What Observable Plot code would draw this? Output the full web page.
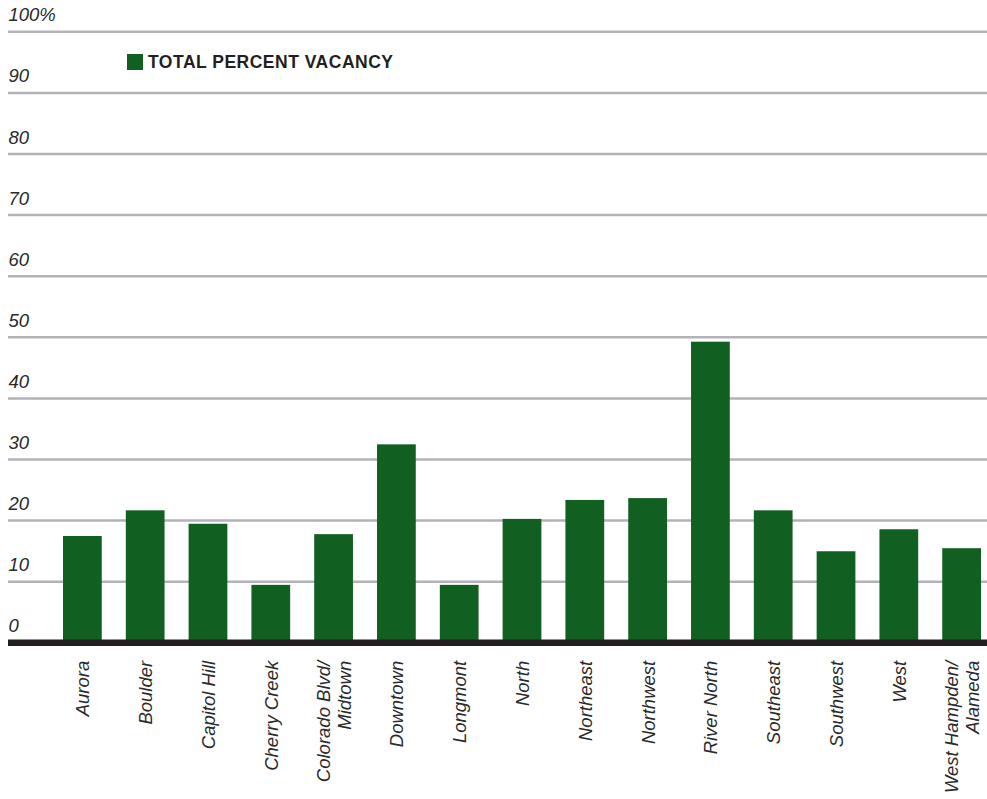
<!DOCTYPE html>
<html>
<head>
<meta charset="utf-8">
<script src="https://cdn.jsdelivr.net/npm/d3@7"></script>
<script src="https://cdn.jsdelivr.net/npm/@observablehq/plot@0.6"></script>
<style>
  html, body { margin: 0; padding: 0; background: #fff; }
  #wrap { position: relative; width: 987px; height: 799px; font-family: "Liberation Sans", Arial, sans-serif; }
  #legend { position: absolute; left: 127px; top: 53px; display: flex; align-items: center; font-weight: bold; font-size: 17.5px; color: #231f20; letter-spacing: 0.5px; line-height: 18px; }
  #legend .sw { width: 16px; height: 16px; background: #115f21; margin-right: 5px; }
</style>
</head>
<body>
<div id="wrap">
  <div id="chart"></div>
  <div id="legend"><span class="sw"></span><span>TOTAL PERCENT VACANCY</span></div>
</div>
<script>
const categories = ["Aurora", "Boulder", "Capitol Hill", "Cherry Creek", "Colorado Blvd/\nMidtown", "Downtown", "Longmont", "North", "Northeast", "Northwest", "River North", "Southeast", "Southwest", "West", "West Hampden/\nAlameda"];
const vacancy = [17.4, 21.6, 19.4, 9.4, 17.7, 32.4, 9.4, 20.2, 23.3, 23.6, 49.2, 21.6, 14.9, 18.5, 15.4];
const yTicks = [10, 20, 30, 40, 50, 60, 70, 80, 90, 100];
const yTickLabels = ["0", "10", "20", "30", "40", "50", "60", "70", "80", "90", "100%"];
const yLabelValues = [0, 10, 20, 30, 40, 50, 60, 70, 80, 90, 100];

const data = categories.map((c, i) => ({ name: c, value: vacancy[i] }));
const tickData = yLabelValues.map((v, i) => ({ v, label: yTickLabels[i] }));

const chart = Plot.plot({
  width: 987,
  height: 799,
  marginTop: 31.3,
  marginBottom: 156.7,
  marginLeft: 8,
  marginRight: 0,
  style: { fontFamily: "'Liberation Sans', Arial, sans-serif", background: "#fff", overflow: "visible" },
  x: { domain: categories, range: [63, 981], paddingInner: 0.383, paddingOuter: 0, round: false, axis: null },
  y: { domain: [0, 100], axis: null },
  marks: [
    Plot.ruleY(yTicks, { stroke: "#b3b3b7", strokeWidth: 2.5 }),
    Plot.barY(data, { x: "name", y: "value", fill: "#115f21" }),
    Plot.ruleY([0], { stroke: "#231f20", strokeWidth: 6.5 }),
    Plot.text(tickData, {
      y: "v", text: "label", frameAnchor: "left", textAnchor: "start", lineAnchor: "bottom",
      dy: -10.5, fontSize: 18.5, fontStyle: "italic", fill: "#2a2a2a", letterSpacing: "0.5px"
    }),
    Plot.text(data, {
      x: "name", y: () => 0, text: "name", rotate: -90, textAnchor: "end", lineAnchor: "middle",
      dy: 18, fontSize: 18.5, fontStyle: "italic", fill: "#2a2a2a", lineHeight: 1.1
    })
  ]
});
document.getElementById("chart").appendChild(chart);
</script>
</body>
</html>
